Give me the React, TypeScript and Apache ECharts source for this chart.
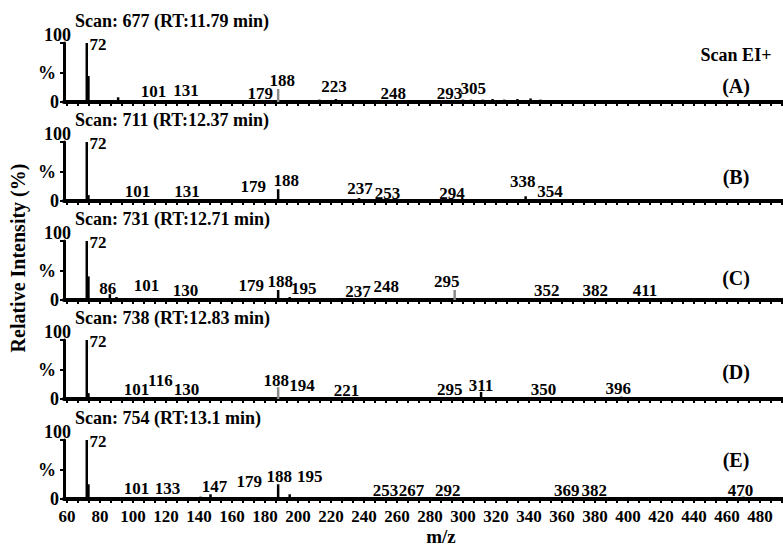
import React, { useEffect, useRef } from "react";
import * as echarts from "echarts";

// ---- data ----
const mzTickLabels = [60, 80, 100, 120, 140, 160, 180, 200, 220, 240, 260, 280, 300, 320, 340, 360, 380, 400, 420, 440, 460, 480];
const scanTitles = [
  "Scan: 677 (RT:11.79 min)",
  "Scan: 711 (RT:12.37 min)",
  "Scan: 731 (RT:12.71 min)",
  "Scan: 738 (RT:12.83 min)",
  "Scan: 754 (RT:13.1 min)",
];
const panelTags = ["(A)", "(B)", "(C)", "(D)", "(E)"];

// [m/z, relative intensity %]
const peaksA = [
  [72, 100], [73, 44], [78, 3], [91, 8], [101, 2], [112, 2], [131, 3], [145, 3], [160, 2], [179, 2],
  [188, 22], [200, 2], [213, 4], [223, 5], [235, 2], [248, 3], [265, 2], [280, 3], [293, 3], [300, 4],
  [305, 4], [312, 4], [318, 5], [325, 4], [333, 5], [341, 6], [347, 4], [355, 3], [362, 2],
];
const peaksB = [
  [72, 100], [73, 10], [101, 3], [131, 2], [179, 2], [188, 20], [237, 5], [253, 2], [294, 2], [338, 8], [354, 2],
];
const peaksC = [
  [72, 100], [73, 40], [86, 10], [90, 5], [101, 3], [130, 2], [142, 3], [179, 2], [188, 17], [195, 5],
  [237, 2], [248, 3], [265, 2], [295, 17], [305, 3], [320, 3], [335, 2], [352, 3], [365, 2], [382, 3], [395, 2], [411, 3],
];
const peaksD = [
  [72, 100], [73, 10], [101, 2], [116, 2], [130, 2], [145, 2], [160, 2], [188, 20], [194, 3], [221, 3],
  [295, 2], [311, 12], [350, 2], [396, 4],
];
const peaksE = [
  [72, 100], [73, 25], [101, 3], [133, 3], [141, 4], [147, 8], [179, 3], [188, 25], [195, 8],
  [253, 2], [267, 2], [292, 2], [369, 3], [382, 2], [470, 4],
];
const labelsA = [72, 101, 131, 179, 188, 223, 248, 293, 305];
const labelsB = [72, 101, 131, 179, 188, 237, 253, 294, 338, 354];
const labelsC = [72, 86, 101, 130, 179, 188, 195, 237, 248, 295, 352, 382, 411];
const labelsD = [72, 101, 116, 130, 188, 194, 221, 295, 311, 350, 396];
const labelsE = [72, 101, 133, 147, 179, 188, 195, 253, 267, 292, 369, 382, 470];
const faintA = [188];
const faintB: number[] = [];
const faintC = [295];
const faintD = [188];
const faintE: number[] = [];

// ---- label placement (pixel nudges, layout only) ----
const labelNudgeA: Record<number, [number, number]> = {
  101: [19, 0], 131: [2, 0], 179: [-3, 2], 188: [4, 1], 223: [-2, -3], 248: [16, 3], 293: [-2, 3], 305: [2, -2],
};
const labelNudgeB: Record<number, [number, number]> = {
  101: [3, 2], 131: [3, 1], 179: [-10, -4], 188: [8, 1], 237: [1, 0], 253: [2, 3], 294: [-1, 3], 338: [-3, -5], 354: [-2, 1],
};
const labelNudgeC: Record<number, [number, number]> = {
  86: [-2, 4], 101: [12, -3], 130: [3, 1], 179: [-12, -4], 188: [2, 1], 195: [14, 1], 237: [-1, 2], 248: [9, -2],
  295: [-8, 1], 352: [-2, 2], 382: [-3, 2], 411: [-1, 2],
};
const labelNudgeD: Record<number, [number, number]> = {
  101: [2, 1], 116: [1, -8], 130: [4, 1], 188: [-2, 3], 194: [14, -2], 221: [14, 3], 295: [-5, 1], 311: [0, 3], 350: [-2, 1], 396: [-3, 1],
};
const labelNudgeE: Record<number, [number, number]> = {
  101: [2, 1], 133: [-20, 1], 147: [4, 2], 179: [-14, -6], 188: [1, 2], 195: [20, -8], 253: [0, 2], 267: [3, 2], 292: [-2, 2],
  369: [-10, 3], 382: [-4, 2], 470: [-3, 3],
};

const panels = [
  { peaks: peaksA, labels: labelsA, faint: faintA, nudge: labelNudgeA },
  { peaks: peaksB, labels: labelsB, faint: faintB, nudge: labelNudgeB },
  { peaks: peaksC, labels: labelsC, faint: faintC, nudge: labelNudgeC },
  { peaks: peaksD, labels: labelsD, faint: faintD, nudge: labelNudgeD },
  { peaks: peaksE, labels: labelsE, faint: faintE, nudge: labelNudgeE },
];

// ---- layout ----
const FONT = '"Liberation Serif", "Times New Roman", serif';
const X_MIN = 58.2;
const X_MAX = 494;
const baselines = [102, 201, 300, 399, 499];
const PANEL_H = 59;
const tagY = [86, 177, 278, 372, 460];

export default function App() {
  const ref = useRef<HTMLDivElement>(null);
  useEffect(() => {
    document.body.style.margin = "0";
    const chart = echarts.init(ref.current!, null, { renderer: "svg" });

    const minorTicks: number[] = [];
    for (let k = 0; k <= 65; k++) {
      const v = 60 + (k * 20) / 3;
      if (v <= X_MAX) minorTicks.push(Math.round(v * 1000) / 1000);
    }

    const grid = panels.map((_, i) => ({
      left: 64,
      right: 0,
      top: baselines[i] - PANEL_H,
      height: PANEL_H,
    }));

    const xAxis = panels.map((_, i) => ({
      type: "value",
      gridIndex: i,
      min: X_MIN,
      max: X_MAX,
      axisLine: { show: true, onZero: false, lineStyle: { color: "#000", width: 4 } },
      axisTick: { show: true, customValues: minorTicks, length: 4, lineStyle: { color: "#000", width: 2 } },
      axisLabel: {
        show: i === 4,
        customValues: mzTickLabels,
        margin: 9,
        color: "#000",
        fontFamily: FONT,
        fontWeight: "bold",
        fontSize: 17,
      },
      splitLine: { show: false },
    }));

    const yAxis = panels.map((_, i) => ({
      type: "value",
      gridIndex: i,
      min: 0,
      max: 100,
      axisLine: { show: true, onZero: false, lineStyle: { color: "#000", width: 3 } },
      axisTick: { show: true, customValues: [0, 50, 100], length: 4, lineStyle: { color: "#000", width: 2 } },
      axisLabel: {
        customValues: [0, 50, 100],
        margin: -7,
        formatter: (v: number) => (v === 100 ? "{t|100}\n{t| }" : v === 50 ? "{p|%}" : "{z|0}"),
        rich: {
          t: { fontFamily: FONT, fontWeight: "bold", fontSize: 18, color: "#000", lineHeight: 16 },
          p: { fontFamily: FONT, fontWeight: "bold", fontSize: 18, color: "#000", padding: [0, 15, 0, 0] },
          z: { fontFamily: FONT, fontWeight: "bold", fontSize: 18, color: "#000", padding: [0, 12, 0, 0] },
        },
      },
      splitLine: { show: false },
    }));

    const series = panels.map((p, i) => {
      const maxI = Math.max(...p.peaks.map((d) => d[1]));
      return {
        type: "bar",
        xAxisIndex: i,
        yAxisIndex: i,
        barWidth: 2.5,
        itemStyle: { color: "#000" },
        data: p.peaks.map(([mz, inten]) => {
          const labeled = p.labels.includes(mz);
          const faint = p.faint.includes(mz);
          const isBase = inten === maxI;
          return {
            value: [mz, inten],
            itemStyle: faint ? { color: "#8a8a8a" } : undefined,
            label: {
              show: labeled,
              formatter: String(mz),
              position: isBase ? [4, -7] : "top",
              distance: 1,
              offset: isBase ? [0, 0] : p.nudge[mz] || [0, 0],
              color: "#000",
              fontFamily: FONT,
              fontWeight: "bold",
              fontSize: 17,
            },
          };
        }),
      };
    });

    const title = scanTitles.map((t, i) => ({
      text: t,
      left: 75,
      top: baselines[i] - 90,
      padding: 0,
      textStyle: { fontFamily: FONT, fontWeight: "bold", fontSize: 18, color: "#000" },
    }));

    const textStyle = (extra: any) => ({
      fill: "#000",
      fontFamily: FONT,
      fontWeight: "bold",
      ...extra,
    });

    const graphic: any[] = [
      {
        type: "text",
        x: 736,
        y: 55,
        style: textStyle({ text: "Scan EI+", fontSize: 18, align: "center", verticalAlign: "middle" }),
      },
      ...panelTags.map((t, i) => ({
        type: "text",
        x: 736,
        y: tagY[i],
        style: textStyle({ text: t, fontSize: 20, align: "center", verticalAlign: "middle" }),
      })),
      {
        type: "text",
        x: 18,
        y: 258,
        rotation: Math.PI / 2,
        style: textStyle({ text: "Relative Intensity (%)", fontSize: 20, align: "center", verticalAlign: "middle" }),
      },
      {
        type: "text",
        x: 441,
        y: 536,
        style: textStyle({ text: "m/z", fontSize: 19, align: "center", verticalAlign: "middle" }),
      },
    ];

    chart.setOption({
      animation: false,
      backgroundColor: "#fff",
      title,
      grid,
      xAxis,
      yAxis,
      series,
      graphic,
    } as any);

    return () => chart.dispose();
  }, []);

  return <div ref={ref} style={{ width: 783, height: 548 }} />;
}
